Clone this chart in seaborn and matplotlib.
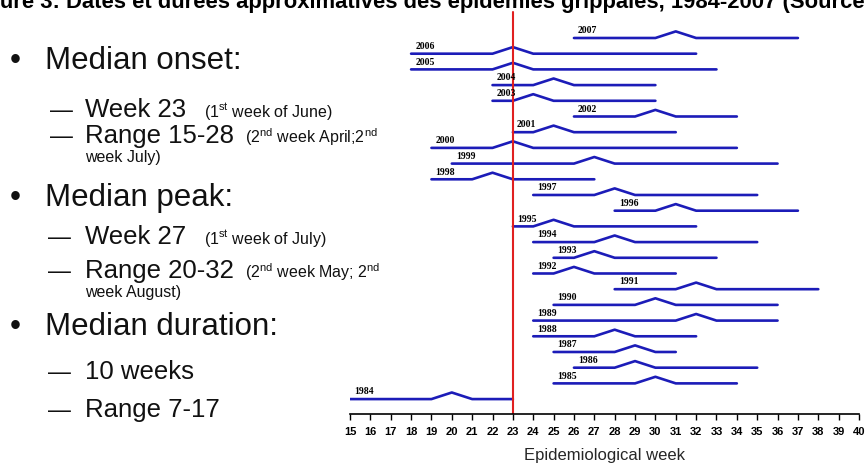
import numpy as np
import pandas as pd
import matplotlib
matplotlib.use("Agg")
import matplotlib.pyplot as plt
import seaborn as sns

# ---------------- data ----------------
years = [2007, 2006, 2005, 2004, 2003, 2002, 2001, 2000, 1999, 1998, 1997, 1996,
         1995, 1994, 1993, 1992, 1991, 1990, 1989, 1988, 1987, 1986, 1985, 1984]
onset_week = [26, 18, 18, 22, 22, 26, 23, 19, 20, 19, 24, 28,
              23, 24, 25, 24, 28, 25, 24, 24, 25, 26, 25, 15]
peak_week = [31, 23, 23, 25, 24, 30, 25, 23, 27, 22, 28, 31,
             25, 28, 27, 26, 32, 30, 32, 28, 29, 29, 30, 20]
end_week = [37, 32, 33, 30, 30, 34, 31, 34, 36, 27, 35, 37,
            32, 35, 33, 31, 38, 36, 36, 32, 31, 35, 34, 23]
weeks = list(range(15, 41))
week_labels = [str(w) for w in weeks]
median_onset = 23

title = "Figure 3: Dates et durées approximatives des épidémies grippales, 1984-2007 (Source:"
xlabel = "Epidemiological week"

# ---------------- style ----------------
sns.set_theme(style="white")
plt.rcParams["font.family"] = ["Liberation Sans", "DejaVu Sans"]
plt.rcParams["mathtext.fontset"] = "custom"
plt.rcParams["mathtext.rm"] = "Liberation Sans"
plt.rcParams["mathtext.it"] = "Liberation Sans:italic"
plt.rcParams["mathtext.bf"] = "Liberation Sans:bold"

BLUE = "#1c1cb8"
RED = "#e02020"
W, H = 866, 470
PEAK_H = 0.42

fig = plt.figure(figsize=(W / 100, H / 100), dpi=100)
fig.patch.set_facecolor("white")

ax = fig.add_axes([350 / W, (H - 414) / H, 509 / W, 414 / H])

# long-form table of epidemic profiles
recs = []
for i, (yr, s, p, e) in enumerate(zip(years, onset_week, peak_week, end_week)):
    for k, (wk, lift) in enumerate([(s, 0), (p - 1, 0), (p, 1), (p + 1, 0), (e, 0)]):
        recs.append({"year": yr, "week": wk, "row": i - lift * PEAK_H, "k": k})
df = pd.DataFrame(recs)

sns.lineplot(data=df, x="week", y="row", units="year", estimator=None, sort=False,
             color=BLUE, lw=1.9, ax=ax, legend=False)

for i, (yr, s) in enumerate(zip(years, onset_week)):
    ax.text(s + 0.2, i - 0.3, str(yr), fontsize=7, fontweight="bold",
            family="Liberation Serif", va="baseline", ha="left", color="black")

ax.axvline(median_onset, ymin=0, ymax=1 - 12 / 414, color=RED, lw=1.5)

ax.set_xlim(15, 40)
ax.set_ylim(23.95, -2.42)
ax.set_yticks([])
ax.set_ylabel("")
for sp in ["left", "right", "top"]:
    ax.spines[sp].set_visible(False)
ax.spines["bottom"].set_color("black")
ax.spines["bottom"].set_linewidth(1.2)
ax.set_xticks(weeks)
ax.set_xticklabels(week_labels)
ax.tick_params(axis="x", direction="out", length=4.5, width=1, pad=5,
               labelsize=8, bottom=True, colors="black")
for lab in ax.get_xticklabels():
    lab.set_fontweight("bold")
ax.set_xlabel(xlabel, fontsize=12, labelpad=8)
ax.patch.set_alpha(0)

# ---------------- left-hand text ----------------
def ftext(x, y, s, size, **kw):
    fig.text(x / W, 1 - y / H, s, fontsize=size, va="baseline", ha="left",
             color="#111111", **kw)

BIG, MID, SMALL, DASH = 22.5, 18.5, 11.5, 16.5
ftext(10, 69, "•", BIG)
ftext(45, 69, "Median onset:", BIG)
ftext(50, 117, "—", DASH)
ftext(85, 117, "Week 23", MID)
ftext(204, 117, r"(1$^{\mathrm{st}}$ week of June)", SMALL)
ftext(50, 143, "—", DASH)
ftext(85, 143, "Range 15-28", MID)
ftext(245, 143, r"(2$^{\mathrm{nd}}$ week April;2$^{\mathrm{nd}}$", SMALL)
ftext(85, 162, "week July)", SMALL)
ftext(10, 206, "•", BIG)
ftext(45, 206, "Median peak:", BIG)
ftext(48, 244, "—", DASH)
ftext(85, 244, "Week 27", MID)
ftext(204, 244, r"(1$^{\mathrm{st}}$ week of July)", SMALL)
ftext(48, 278, "—", DASH)
ftext(85, 278, "Range 20-32", MID)
ftext(245, 278, r"(2$^{\mathrm{nd}}$ week May; 2$^{\mathrm{nd}}$", SMALL)
ftext(85, 297, "week August)", SMALL)
ftext(10, 335, "•", BIG)
ftext(45, 335, "Median duration:", BIG)
ftext(48, 379, "—", DASH)
ftext(85, 379, "10 weeks", MID)
ftext(48, 417, "—", DASH)
ftext(85, 417, "Range 7-17", MID)

# title, clipped at the top edge as in the reference
fig.text(-33 / W, 1 - 8 / H, title, fontsize=15.8, fontweight="bold",
         va="baseline", ha="left", color="black")

fig.savefig("out.png", dpi=100, facecolor="white")
